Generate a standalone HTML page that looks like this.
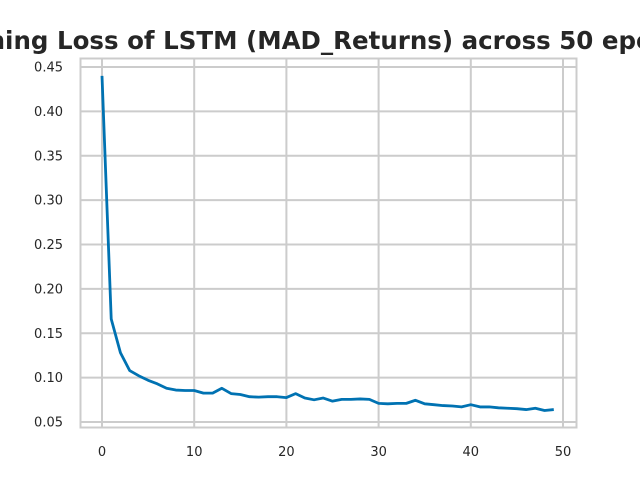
<!DOCTYPE html>
<html><head><meta charset="utf-8"><style>body{margin:0;background:#fff}svg{display:block}</style></head>
<body>
<svg id="chart" width="640" height="480" xmlns="http://www.w3.org/2000/svg" font-family="'DejaVu Sans','Liberation Sans',sans-serif">
<text x="318" y="49" text-anchor="middle" font-size="24.5" font-weight="bold" fill="#262626">Training Loss of LSTM (MAD_Returns) across 50 epochs</text>
<g id="grid"></g><g id="ticks"></g><g id="series"></g>
<rect x="80.5" y="58.5" width="496" height="369" fill="none" stroke="#cccccc" stroke-width="2"/>
</svg>
<script>
const epochs=[...Array(50).keys()];
const lossValues=[0.44,0.166,0.128,0.108,0.102,0.097,0.093,0.088,0.086,0.0855,0.0855,0.0825,0.0825,0.088,0.082,0.081,0.0785,0.078,0.0785,0.0785,0.0775,0.082,0.077,0.075,0.077,0.0735,0.0755,0.0755,0.076,0.0755,0.071,0.0705,0.071,0.071,0.0745,0.0705,0.0695,0.0685,0.068,0.067,0.0695,0.067,0.067,0.066,0.0655,0.065,0.064,0.0655,0.063,0.064];
const xTicks=[0,10,20,30,40,50];
const yTicks=[0.05,0.10,0.15,0.20,0.25,0.30,0.35,0.40,0.45];
const NS="http://www.w3.org/2000/svg";
const L=80,R=576,T=58,B=427;
const x=v=>102+v*(563-102)/50;
const y=v=>422-(v-0.05)*(422-67)/0.4;
function mk(tag,attrs,parent){const e=document.createElementNS(NS,tag);for(const k in attrs)e.setAttribute(k,attrs[k]);document.getElementById(parent).appendChild(e);return e;}
xTicks.forEach(t=>{
 const g=mk('line',{x1:x(t),x2:x(t),y1:T,y2:B,stroke:'#cccccc','stroke-width':2},'grid');
 
 
 const l=mk('text',{x:x(t),y:456,'text-anchor':'middle','font-size':13,fill:'#262626'},'ticks');
 l.textContent=t;
 
 
});
yTicks.forEach(t=>{
 const g=mk('line',{x1:L,x2:R,y1:y(t),y2:y(t),stroke:'#cccccc','stroke-width':2},'grid');
 
 
 const l=mk('text',{x:63,y:y(t)+4.5,'text-anchor':'end','font-size':13,fill:'#262626'},'ticks');
 l.textContent=t.toFixed(2);
 
 
});
const p=mk('polyline',{points:epochs.map((e,i)=>x(e)+','+y(lossValues[i])).join(' '),fill:'none',stroke:'#0072b2','stroke-width':2.8,'stroke-linejoin':'round'},'series');


</script>
</body></html>
